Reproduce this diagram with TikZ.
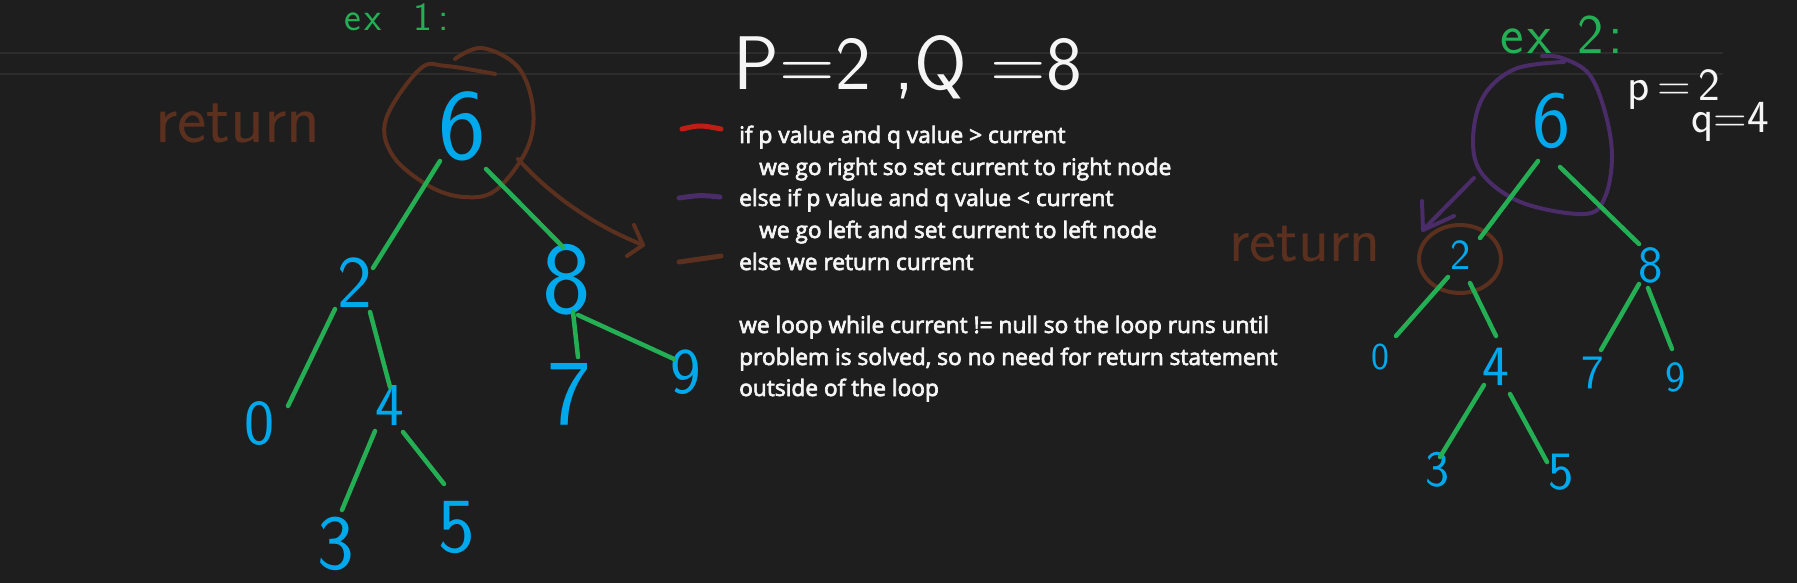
\documentclass[tikz,border=0pt]{standalone}
\usepackage{fontspec}
\setmainfont{Open Sans}
\newfontfamily\notefont{Open Sans}[FakeBold=3]
\usetikzlibrary{calc}
\definecolor{bg}{RGB}{30,30,30}
\definecolor{guidecol}{RGB}{44,44,44}
\definecolor{treegreen}{RGB}{36,175,84}
\definecolor{nodeblue}{RGB}{0,168,236}
\definecolor{penbrown}{RGB}{92,48,30}
\definecolor{penpurple}{RGB}{74,44,104}
\definecolor{penred}{RGB}{192,30,20}
\definecolor{textwhite}{RGB}{245,245,245}
\tikzset{
  edge/.style={draw=treegreen, line width=4.5pt, line cap=round},
  num/.style={text=nodeblue, inner sep=0pt, font=\sffamily\fontsize{#1}{#1}\selectfont},
  hand/.style={inner sep=0pt, anchor=base, font=\sffamily\fontsize{#1}{#1}\selectfont},
  txt/.style={text=textwhite, inner sep=0pt, anchor=base west, font=\notefont\fontsize{22.7}{27}\selectfont},
  keyline/.style={line width=5pt, line cap=round},
  brownpen/.style={draw=penbrown, line width=4pt, line cap=round, line join=round},
  purplepen/.style={draw=penpurple, line width=4pt, line cap=round, line join=round},
  guide/.style={draw=guidecol, line width=2pt}
}
\begin{document}
\begin{tikzpicture}[x=1pt,y=-1pt]
\useasboundingbox (0,0) rectangle (1797,583);
\fill[bg] (0,0) rectangle (1797,583);
\draw[guide] (0,53) -- (1723,53);
\draw[guide] (0,74) -- (1723,74);

% ---------- example 1 ----------
\node[hand=40, text=treegreen] (ex1) at (397,31) {e\kern3pt x\hspace{32pt}1\kern6pt:};
\node[hand=70, text=penbrown] (ret1) at (238,143) {return};
\draw[brownpen] plot[smooth, tension=0.6] coordinates {(495,74) (446,66) (420,69) (386,119) (393,156) (429,186) (464,197) (496,190) (527,149) (533,108) (518,67) (482,48) (455,59)};
\draw[brownpen] (518,159) .. controls (555,200) and (600,228) .. (643,245);
\draw[brownpen] (634,225) -- (643,245) -- (627,256);

\node[num=101] (six1) at (462,126) {6};
\node[num=74] (two1) at (355,283) {2};
\node[num=103] (eight1) at (567,280) {8};
\node[num=64] (zero1) at (260,424) {0};
\node[num=61] (four1) at (390,405) {4};
\node[num=78] (three1) at (336,544) {3};
\node[num=78] (five1) at (457,528) {5};
\node[num=93] (seven1) at (569,394) {7};
\node[num=65] (nine1) at (686,372) {9};

\draw[edge] ([shift={(-22,35)}]six1.center) -- ([shift={(18,-15)}]two1.center);
\draw[edge] ([shift={(24,43)}]six1.center) -- ([shift={(-4,-33)}]eight1.center);
\draw[edge] ([shift={(-20,26)}]two1.center) -- ([shift={(28,-18)}]zero1.center);
\draw[edge] ([shift={(15,29)}]two1.center) -- ([shift={(0,-18)}]four1.center);
\draw[edge] ([shift={(-15,26)}]four1.center) -- ([shift={(6,-34)}]three1.center);
\draw[edge] ([shift={(13,27)}]four1.center) -- ([shift={(-13,-44)}]five1.center);
\draw[edge] ([shift={(6,32)}]eight1.center) -- ([shift={(9,-37)}]seven1.center);
\draw[edge] ([shift={(11,35)}]eight1.center) -- ([shift={(-12,-13)}]nine1.center);

% ---------- middle ----------
\node[hand=76, text=textwhite] (pq) at (908,90) {P=2 ,Q =8};
\draw[keyline, draw=penred] (682,129) .. controls (700,125) .. (721,129);
\draw[keyline, draw=penpurple] (679,198) .. controls (700,195) .. (720,197);
\draw[keyline, draw=penbrown] (679,262) .. controls (700,259) .. (721,256);

\node[txt] (l1) at (739,143) {if p value and q value > current};
\node[txt] (l2) at (759,175) {we go right so set current to right node};
\node[txt] (l3) at (739,206) {else if p value and q value < current};
\node[txt] (l4) at (759,238) {we go left and set current to left node};
\node[txt] (l5) at (739,270) {else we return current};
\node[txt] (l6) at (739,333) {we loop while current != null so the loop runs until};
\node[txt] (l7) at (739,365) {problem is solved, so no need for return statement};
\node[txt] (l8) at (739,396) {outside of the loop};

% ---------- example 2 ----------
\node[hand=56, text=treegreen] (ex2) at (1562,54) {e\kern3pt x\hspace{26pt}2\kern5pt:};
\node[hand=46, text=textwhite] (pv) at (1674,101) {p\,=\,2};
\node[hand=46, text=textwhite] (qv) at (1730,133) {q=4};
\node[hand=64, text=penbrown] (ret2) at (1305,261) {return};
\draw[purplepen] plot[smooth, tension=0.6] coordinates {(1564,62) (1515,69) (1483,97) (1473,141) (1483,175) (1523,203) (1585,214) (1605,197) (1612,156) (1605,112) (1589,74) (1562,58) (1542,56)};
\draw[purplepen] (1474,178) -- (1423,230);
\draw[purplepen] (1422,201) -- (1423,230) -- (1454,216);
\draw[brownpen] (1460,259) ellipse [x radius=41pt, y radius=34pt];

\node[num=81] (six2) at (1552,121) {6};
\node[num=43] (two2) at (1461,255) {2};
\node[num=52] (eight2) at (1651,265) {8};
\node[num=38] (zero2) at (1380,357) {0};
\node[num=57] (four2) at (1496,367) {4};
\node[num=48] (seven2) at (1593,373) {7};
\node[num=43] (nine2) at (1676,377) {9};
\node[num=51] (three2) at (1437,470) {3};
\node[num=54] (five2) at (1561,472) {5};

\draw[edge] ([shift={(-14,40)}]six2.center) -- ([shift={(19,-17)}]two2.center);
\draw[edge] ([shift={(8,46)}]six2.center) -- ([shift={(-12,-21)}]eight2.center);
\draw[edge] ([shift={(-13,22)}]two2.center) -- ([shift={(16,-21)}]zero2.center);
\draw[edge] ([shift={(9,28)}]two2.center) -- ([shift={(0,-31)}]four2.center);
\draw[edge] ([shift={(-12,19)}]eight2.center) -- ([shift={(8,-23)}]seven2.center);
\draw[edge] ([shift={(-3,23)}]eight2.center) -- ([shift={(-4,-28)}]nine2.center);
\draw[edge] ([shift={(-12,18)}]four2.center) -- ([shift={(3,-13)}]three2.center);
\draw[edge] ([shift={(14,27)}]four2.center) -- ([shift={(-14,-10)}]five2.center);
\end{tikzpicture}
\end{document}
